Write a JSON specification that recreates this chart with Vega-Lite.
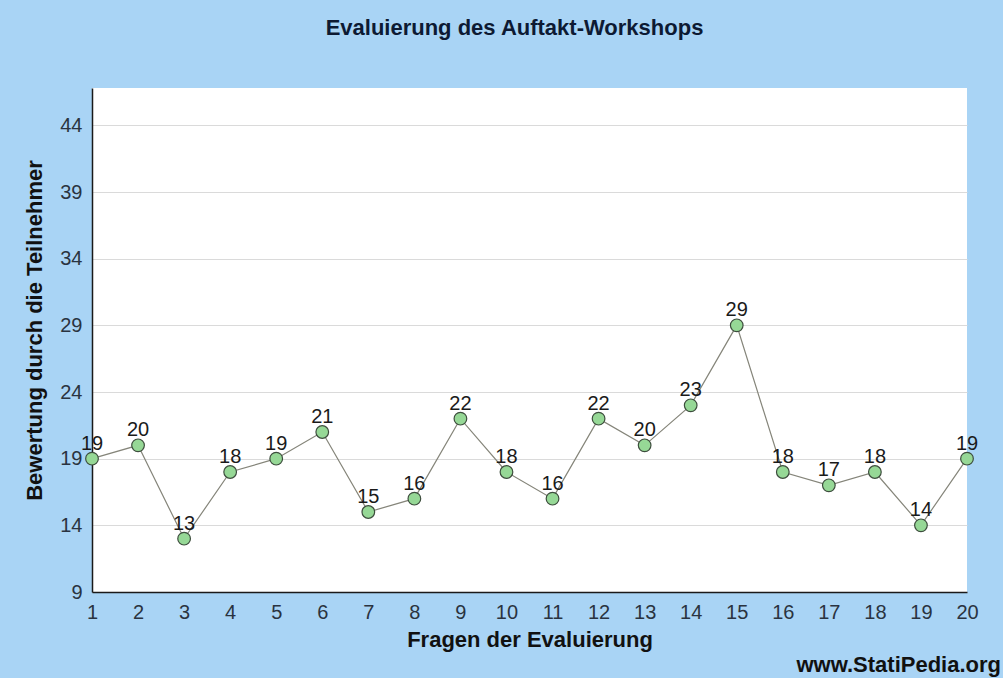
{
  "$schema": "https://vega.github.io/schema/vega-lite/v6.json",
  "autosize": "none",
  "width": 875,
  "height": 504,
  "padding": {"left": 92, "top": 88, "right": 36, "bottom": 86},
  "background": "#a9d4f5",
  "view": {"fill": "white", "stroke": null},
  "title": {
    "text": "Evaluierung des Auftakt-Workshops",
    "font": "Liberation Sans",
    "fontSize": 22,
    "fontWeight": "bold",
    "color": "#0d1a33",
    "anchor": "middle",
    "dx": -15,
    "offset": 48
  },
  "config": {
    "font": "Liberation Sans",
    "axis": {
      "labelFont": "Liberation Sans",
      "labelFontSize": 20,
      "labelColor": "#2a3340",
      "titleFont": "Liberation Sans",
      "titleFontSize": 22,
      "titleFontWeight": "bold",
      "titleColor": "#111",
      "domainColor": "#1a1a1a",
      "domainWidth": 1.5,
      "ticks": false,
      "labelFlush": false,
      "labelOverlap": false
    }
  },
  "data": {
    "values": [
      {"frage": 1, "wert": 19},
      {"frage": 2, "wert": 20},
      {"frage": 3, "wert": 13},
      {"frage": 4, "wert": 18},
      {"frage": 5, "wert": 19},
      {"frage": 6, "wert": 21},
      {"frage": 7, "wert": 15},
      {"frage": 8, "wert": 16},
      {"frage": 9, "wert": 22},
      {"frage": 10, "wert": 18},
      {"frage": 11, "wert": 16},
      {"frage": 12, "wert": 22},
      {"frage": 13, "wert": 20},
      {"frage": 14, "wert": 23},
      {"frage": 15, "wert": 29},
      {"frage": 16, "wert": 18},
      {"frage": 17, "wert": 17},
      {"frage": 18, "wert": 18},
      {"frage": 19, "wert": 14},
      {"frage": 20, "wert": 19}
    ]
  },
  "layer": [
    {
      "mark": {"type": "line", "color": "#85857a", "strokeWidth": 1.2},
      "encoding": {
        "x": {
          "field": "frage",
          "type": "quantitative",
          "scale": {"domain": [1, 20], "nice": false, "zero": false},
          "axis": {
            "title": "Fragen der Evaluierung",
            "values": [1,2,3,4,5,6,7,8,9,10,11,12,13,14,15,16,17,18,19,20],
            "grid": false,
            "labelPadding": 10,
            "titlePadding": 7
          }
        },
        "y": {
          "field": "wert",
          "type": "quantitative",
          "scale": {"domain": [9, 46.8], "nice": false, "zero": false},
          "axis": {
            "title": "Bewertung durch die Teilnehmer",
            "values": [9, 14, 19, 24, 29, 34, 39, 44],
            "grid": true,
            "gridColor": "#dadada",
            "gridWidth": 1,
            "labelPadding": 10,
            "titlePadding": 13,
            "titleY": 242
          }
        }
      }
    },
    {
      "mark": {"type": "point", "shape": "circle", "filled": true, "size": 160, "fill": "#96d896", "stroke": "#3d4d3d", "strokeWidth": 1.2, "opacity": 1},
      "encoding": {
        "x": {"field": "frage", "type": "quantitative"},
        "y": {"field": "wert", "type": "quantitative"}
      }
    },
    {
      "mark": {"type": "text", "baseline": "alphabetic", "align": "center", "dy": -9, "fontSize": 20, "font": "Liberation Sans", "color": "#1a1a1a"},
      "encoding": {
        "x": {"field": "frage", "type": "quantitative"},
        "y": {"field": "wert", "type": "quantitative"},
        "text": {"field": "wert", "type": "quantitative"}
      }
    },
    {
      "data": {"values": [{"frage": 20, "wert": 9, "label": "www.StatiPedia.org"}]},
      "mark": {"type": "text", "align": "right", "baseline": "alphabetic", "dx": 34, "dy": 80, "fontSize": 22, "fontWeight": "bold", "font": "Liberation Sans", "color": "#111"},
      "encoding": {
        "x": {"field": "frage", "type": "quantitative"},
        "y": {"field": "wert", "type": "quantitative"},
        "text": {"field": "label", "type": "nominal"}
      }
    }
  ]
}
